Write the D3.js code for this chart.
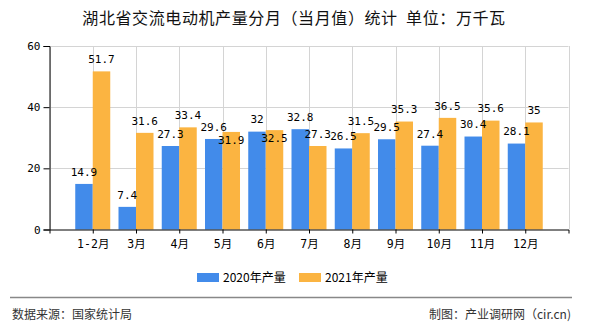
<!DOCTYPE html>
<html><head><meta charset="utf-8">
<script src="https://cdn.jsdelivr.net/npm/d3@7/dist/d3.min.js"></script>
<style>
body{margin:0;background:#fff;}
svg{display:block;}
</style></head>
<body>
<svg id="chart" width="590" height="330"></svg>
<script>
const categories = ["1-2月","3月","4月","5月","6月","7月","8月","9月","10月","11月","12月"];
const series2020 = [14.9,7.4,27.3,29.6,32,32.8,26.5,29.5,27.4,30.4,28.1];
const series2021 = [51.7,31.6,33.4,31.9,32.5,27.3,31.5,35.3,36.5,35.6,35];
const yTicks = [0,20,40,60];
const seriesNames = ["2020年产量","2021年产量"];
const colors = ["#428bea","#fbb441"];

(function(){
const svg = d3.select("#chart");
const pLeft = 49.5, pRight = 568.5, pTop = 46, pBottom = 229.5;
const monoFont = "'DejaVu Sans Mono','Liberation Mono','Noto Sans CJK SC',monospace";
const cjkFont = "'Noto Sans CJK SC','Noto Sans',sans-serif";

const x = d3.scalePoint().domain(categories).range([pLeft, pRight]).padding(1);
const y = d3.scaleLinear().domain([0,60]).range([pBottom, pTop]);
const barW = 17.5;

// title
svg.append("text").attr("x",294).attr("y",24).attr("text-anchor","middle")
  .attr("font-family",cjkFont).attr("font-size",16).attr("fill","#111")
  .attr("letter-spacing","0.6px").attr("xml:space","preserve")
  .text("湖北省交流电动机产量分月（当月值）统计  单位：万千瓦");

// grid
const grid = svg.append("g");
const vx = [pLeft].concat(categories.map(c=>x(c))).concat([pRight]);
grid.selectAll("line.v").data(vx).enter().append("line")
  .attr("x1",d=>Math.round(d)+0.5).attr("x2",d=>Math.round(d)+0.5)
  .attr("y1",pTop).attr("y2",pBottom).attr("stroke","#d4d4d4").attr("stroke-width",1);
grid.selectAll("line.h").data(yTicks.filter(t=>t>0)).enter().append("line")
  .attr("x1",pLeft).attr("x2",pRight).attr("y1",d=>Math.round(y(d))+0.5).attr("y2",d=>Math.round(y(d))+0.5)
  .attr("stroke","#d4d4d4").attr("stroke-width",1);

// bars
const bars = svg.append("g");
bars.selectAll("rect.a").data(series2020).enter().append("rect")
  .attr("x",(d,i)=>x(categories[i])-barW).attr("width",barW)
  .attr("y",d=>y(d)).attr("height",d=>pBottom-y(d)).attr("fill",colors[0]);
bars.selectAll("rect.b").data(series2021).enter().append("rect")
  .attr("x",(d,i)=>x(categories[i])).attr("width",barW)
  .attr("y",d=>y(d)).attr("height",d=>pBottom-y(d)).attr("fill",colors[1]);

// axes
const yAxis = d3.axisLeft(y).tickValues(yTicks).tickSize(6).tickPadding(3);
const gy = svg.append("g").attr("transform",`translate(${pLeft},0)`).call(yAxis);
gy.select(".domain").attr("stroke","#000");
gy.selectAll(".tick line").attr("stroke","#000");
gy.selectAll(".tick text").attr("font-family",monoFont).attr("font-size",11).attr("fill","#000");

const xAxis = d3.axisBottom(x).tickSize(4).tickSizeOuter(4).tickPadding(6);
const gx = svg.append("g").attr("transform",`translate(0,${pBottom})`).call(xAxis);
gx.select(".domain").attr("stroke","#000");
gx.selectAll(".tick line").attr("stroke","#000");
gx.selectAll(".tick text").attr("font-family",monoFont).attr("font-size",11.5).attr("fill","#000");

// value labels
const labels = svg.append("g").attr("font-family",monoFont).attr("font-size",11).attr("fill","#000")
  .attr("text-anchor","middle");
categories.forEach((c,i)=>{
  const a = series2020[i], b = series2021[i];
  const ya = y(a) - 12;
  let yb = y(b) - 12;
  if (Math.abs(yb - ya) < 12) yb = y(b) + 8;
  labels.append("text").attr("x",x(c)-barW/2).attr("y",ya).attr("dy","0.35em").text(a);
  labels.append("text").attr("x",x(c)+barW/2).attr("y",yb).attr("dy","0.35em").text(b);
});

// legend
const legend = svg.append("g");
const lx = [197,299];
seriesNames.forEach((n,i)=>{
  legend.append("rect").attr("x",lx[i]).attr("y",273).attr("width",22).attr("height",9).attr("fill",colors[i]);
  legend.append("text").attr("x",lx[i]+26).attr("y",277.5).attr("dy","0.35em")
    .attr("font-family",cjkFont).attr("font-size",12).attr("fill","#000").text(n);
});

// footer
svg.append("line").attr("x1",10).attr("x2",572).attr("y1",297.5).attr("y2",297.5)
  .attr("stroke","#888").attr("stroke-width",1.5);
svg.append("text").attr("x",12).attr("y",315).attr("dy","0.35em")
  .attr("font-family",cjkFont).attr("font-size",12).attr("fill","#333").text("数据来源：国家统计局");
svg.append("text").attr("x",571).attr("y",315).attr("dy","0.35em").attr("text-anchor","end")
  .attr("font-family",cjkFont).attr("font-size",12).attr("fill","#333").text("制图：产业调研网（cir.cn)");
})();
</script>
</body></html>
